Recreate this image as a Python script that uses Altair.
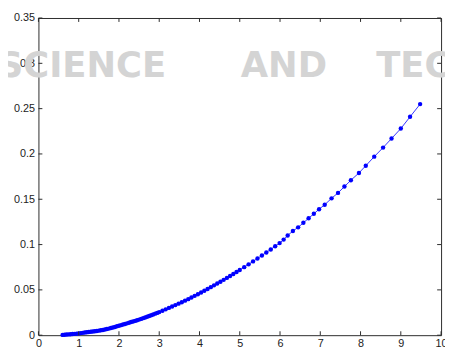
import altair as alt
import pandas as pd

# ---- data ----
x_vals = [0.60, 0.65, 0.70, 0.75, 0.80, 0.85, 0.90, 0.95, 1.00, 1.05, 1.10, 1.15, 1.20, 1.25,
          1.30, 1.35, 1.40, 1.45, 1.50, 1.55, 1.60, 1.65, 1.70, 1.75, 1.80, 1.85, 1.90, 1.95,
          2.00, 2.05, 2.10, 2.15, 2.20, 2.25, 2.30, 2.35, 2.40, 2.45, 2.50, 2.55, 2.60, 2.65,
          2.70, 2.75, 2.80, 2.85, 2.90, 2.95, 3.00, 3.08, 3.16, 3.24, 3.32, 3.40, 3.48, 3.56,
          3.64, 3.72, 3.80, 3.88, 3.96, 4.04, 4.12, 4.20, 4.28, 4.36, 4.44, 4.52, 4.60, 4.68,
          4.76, 4.84, 4.92, 5.00, 5.11, 5.22, 5.33, 5.44, 5.55, 5.66, 5.77, 5.88, 5.99, 6.09,
          6.19, 6.32, 6.45, 6.58, 6.71, 6.84, 6.97, 7.11, 7.28, 7.44, 7.60, 7.76, 7.96, 8.13,
          8.34, 8.56, 8.77, 9.00, 9.23, 9.48]
y_vals = [0.0003, 0.0005, 0.0007, 0.0009, 0.0011, 0.0013, 0.0015, 0.0017, 0.0020, 0.0023,
          0.0026, 0.0029, 0.0032, 0.0035, 0.0038, 0.0041, 0.0044, 0.0047, 0.0050, 0.0054,
          0.0058, 0.0063, 0.0068, 0.0073, 0.0079, 0.0085, 0.0091, 0.0098, 0.0105, 0.0111,
          0.0118, 0.0124, 0.0131, 0.0138, 0.0145, 0.0151, 0.0158, 0.0165, 0.0172, 0.0180,
          0.0188, 0.0196, 0.0204, 0.0212, 0.0220, 0.0229, 0.0238, 0.0246, 0.0255, 0.0270,
          0.0285, 0.0301, 0.0317, 0.0332, 0.0348, 0.0364, 0.0381, 0.0398, 0.0416, 0.0434,
          0.0452, 0.0471, 0.0490, 0.0510, 0.0530, 0.0550, 0.0570, 0.0590, 0.0611, 0.0632,
          0.0653, 0.0675, 0.0697, 0.0720, 0.0751, 0.0782, 0.0814, 0.0847, 0.0880, 0.0913,
          0.0946, 0.0981, 0.1016, 0.1055, 0.1100, 0.1150, 0.1190, 0.1240, 0.1290, 0.1340,
          0.1390, 0.1440, 0.1510, 0.1570, 0.1640, 0.1710, 0.1790, 0.1870, 0.1970, 0.2070,
          0.2170, 0.2280, 0.2410, 0.2550]

x_ticks = [0, 1, 2, 3, 4, 5, 6, 7, 8, 9, 10]
y_ticks = [0, 0.05, 0.1, 0.15, 0.2, 0.25, 0.3, 0.35]

wm_left = ["SCIENCE"]
wm_mid = ["AND"]
wm_right = ["TECHNOLOGY"]

W, H = 410, 323
AX = "#2b2b2b"
BLUE = "#0000ff"

df = pd.DataFrame({"x": x_vals, "y": y_vals})
xt = pd.DataFrame({"t": x_ticks})
yt = pd.DataFrame({"t": y_ticks})

xscale = alt.Scale(domain=[0, 10], nice=False, zero=False)
yscale = alt.Scale(domain=[0, 0.35], nice=False, zero=False)
xaxis = alt.Axis(values=x_ticks, tickSize=0, domain=False, grid=False, title=None,
                 labelFont="Liberation Sans", labelFontSize=11, labelColor="#222222",
                 labelPadding=3, labelOverlap=False, labelFlush=False, format="d")
yaxis = alt.Axis(values=y_ticks, tickSize=0, domain=False, grid=False, title=None,
                 labelFont="Liberation Sans", labelFontSize=11, labelColor="#222222",
                 labelPadding=4, labelOverlap=False, format=".2~f")


def X(f):
    return alt.X(f, type="quantitative", scale=xscale, axis=xaxis)


def Y(f):
    return alt.Y(f, type="quantitative", scale=yscale, axis=yaxis)


def wm(words, xpos, align):
    return alt.Chart(pd.DataFrame({"w": words})).mark_text(
        font="DejaVu Sans", fontWeight="bold", fontSize=36, color="#d4d4d4",
        align=align, baseline="alphabetic"
    ).encode(text="w:N", x=alt.value(xpos), y=alt.value(60))


line = alt.Chart(df).mark_line(color=BLUE, strokeWidth=0.8).encode(x=X("x"), y=Y("y"))
pts = alt.Chart(df).mark_circle(color=BLUE, size=20, opacity=1).encode(x=X("x"), y=Y("y"))

tick_b = alt.Chart(xt).mark_rule(color=AX, strokeWidth=1).encode(
    x=X("t"), y=alt.value(H), y2=alt.value(H - 4))
tick_t = alt.Chart(xt).mark_rule(color=AX, strokeWidth=1).encode(
    x=X("t"), y=alt.value(0), y2=alt.value(4))
tick_l = alt.Chart(yt).mark_rule(color=AX, strokeWidth=1).encode(
    y=Y("t"), x=alt.value(0), x2=alt.value(4))
tick_r = alt.Chart(yt).mark_rule(color=AX, strokeWidth=1).encode(
    y=Y("t"), x=alt.value(W), x2=alt.value(W - 4))

chart = alt.layer(
    wm(wm_left, 130, "right"),
    wm(wm_mid, 206, "left"),
    wm(wm_right, 344, "left"),
    line, pts, tick_b, tick_t, tick_l, tick_r
).properties(
    width=W, height=H,
    autosize=alt.AutoSizeParams(type="none"),
    padding={"left": 31, "top": 7, "right": 4, "bottom": 18},
    background="white",
).configure_view(stroke=AX, strokeWidth=1)

chart.save("out.html", embed_options={"renderer": "svg", "actions": False})
